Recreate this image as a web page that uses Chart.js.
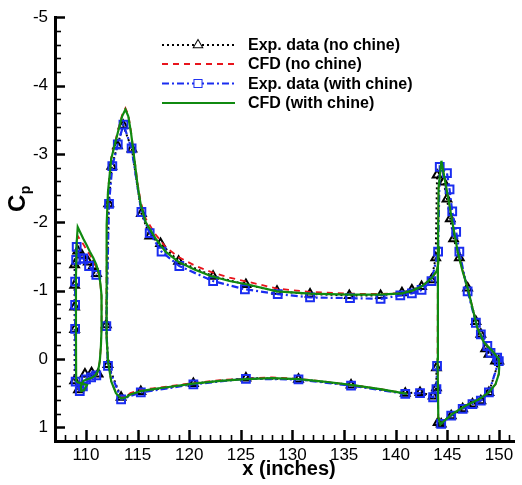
<!DOCTYPE html>
<html>
<head>
<meta charset="UTF-8">
<title>Cp distribution</title>
<script src="https://cdn.jsdelivr.net/npm/chart.js"></script>
<style>
  body { margin: 0; padding: 0; background: #fff; }
  #wrap { width: 522px; height: 485px; }
</style>
</head>
<body>
<div id="wrap"><canvas id="cpChart" width="522" height="485"></canvas></div>
<script>
// tick labels
var xTickLabels = [110, 115, 120, 125, 130, 135, 140, 145, 150];
var yTickLabels = [-5, -4, -3, -2, -1, 0, 1];

// CFD (with chine) - green; null splits the chine loop, main body and aft loop
var cfdChineX = [
  109.05, 109.03, 109.03, 109.1, 109.2, 109.45, 109.74, 110.05, 110.38, 110.7, 111.0, 111.25, 111.4, 111.5, 111.52,
  111.5, 111.45, 111.34, 111.18, 110.9, 110.5, 110.06, 109.75, 109.5, 109.55, 109.8, 110.1, 109.6, 109.2, 109.05,
  null,
  141.1, 138.5, 135.67, 133.0, 130.58, 128.0, 125.49, 123.0, 120.4, 118.0, 116.5, 115.31, 114.3, 113.9, 113.4,
  112.9, 112.45, 112.15, 112.0, 111.97, 112.0, 112.03, 112.13, 112.45, 113.08, 113.5, 113.82, 114.1, 114.36, 114.68,
  115.0, 115.31, 115.79, 116.75, 117.7, 118.97, 120.5, 122.15, 123.9, 125.65, 128.5, 131.7, 135.5, 138.37, 140.6,
  141.6, 142.5, 143.46, 143.94, 144.1, 144.2,
  null,
  144.42, 144.73, 144.96, 145.2, 145.53, 146.0, 146.48, 146.96, 147.43, 147.9, 148.55, 149.34, 149.98, 150.02, 149.98,
  149.66, 149.0, 148.07, 146.8, 145.53, 144.73, 144.32, 144.12, 144.05, 144.08, 144.15, 144.42
];
var cfdChineY = [
  0.33, -0.4, -1.2, -1.7, -1.93, -1.85, -1.76, -1.67, -1.57, -1.48, -1.38, -1.25, -1.1, -0.94, -0.7,
  -0.45, -0.2, 0.03, 0.17, 0.24, 0.28, 0.30, 0.32, 0.40, 0.47, 0.46, 0.38, 0.36, 0.34, 0.33,
  null,
  0.51, 0.44, 0.38, 0.33, 0.295, 0.28, 0.295, 0.32, 0.36, 0.41, 0.44, 0.47, 0.52, 0.56, 0.58,
  0.50, 0.33, 0.05, -0.3, -0.8, -1.3, -1.96, -2.44, -2.93, -3.31, -3.55, -3.65, -3.55, -3.31, -2.93,
  -2.54, -2.25, -2.0, -1.76, -1.57, -1.42, -1.31, -1.21, -1.14, -1.09, -0.99, -0.955, -0.94, -0.94, -0.96,
  -1.0, -1.06, -1.18, -1.28, -1.38, -1.65,
  null,
  -2.90, -2.64, -2.45, -2.25, -1.96, -1.57, -1.28, -1.04, -0.745, -0.455, -0.24, -0.12, 0.0, 0.12, 0.22,
  0.37, 0.49, 0.59, 0.68, 0.80, 0.90, 0.96, 0.85, 0.0, -1.5, -2.5, -2.90
];

// CFD (no chine) - red dashed
var cfdNoChineX = [
  109.05, 109.03, 109.03, 109.1, 109.2, 109.45, 109.74, 110.05, 110.38, 110.7, 111.0, 111.25, 111.4, 111.5, 111.52,
  111.5, 111.45, 111.34, 111.18, 110.9, 110.5, 110.06, 109.6, 109.45, 109.7, 110.0, 109.5, 109.3, 109.1, 109.05,
  null,
  141.1, 138.5, 135.67, 133.0, 130.58, 128.0, 125.49, 123.0, 120.4, 118.0, 116.5, 115.31, 114.3, 113.9, 113.4,
  112.9, 112.45, 112.15, 112.0, 111.97, 112.0, 112.03, 112.13, 112.45, 113.08, 113.5, 113.82, 114.1, 114.36, 114.68,
  115.0, 115.31, 115.79, 116.75, 117.7, 118.97, 120.5, 122.15, 123.9, 125.65, 128.5, 131.7, 135.5, 138.37, 140.6,
  141.6, 142.5, 143.46, 143.94, 144.1, 144.2,
  null,
  144.42, 144.73, 144.96, 145.2, 145.53, 146.0, 146.48, 146.96, 147.43, 147.9, 148.55, 149.34, 149.98, 150.02, 149.98,
  149.66, 149.0, 148.07, 146.8, 145.53, 144.73, 144.32, 144.12, 144.05, 144.08, 144.15, 144.42
];
var cfdNoChineY = [
  0.33, -0.4, -1.2, -1.6, -1.8, -1.74, -1.68, -1.6, -1.52, -1.44, -1.35, -1.23, -1.08, -0.92, -0.7,
  -0.45, -0.2, 0.03, 0.17, 0.25, 0.29, 0.31, 0.36, 0.45, 0.49, 0.41, 0.37, 0.35, 0.34, 0.33,
  null,
  0.51, 0.44, 0.38, 0.33, 0.29, 0.27, 0.285, 0.31, 0.35, 0.40, 0.43, 0.45, 0.50, 0.54, 0.56,
  0.49, 0.33, 0.05, -0.3, -0.8, -1.3, -1.97, -2.46, -2.95, -3.33, -3.57, -3.67, -3.57, -3.33, -2.95,
  -2.57, -2.29, -2.05, -1.82, -1.64, -1.49, -1.37, -1.27, -1.19, -1.13, -1.03, -0.98, -0.955, -0.95, -0.965,
  -1.0, -1.06, -1.18, -1.28, -1.38, -1.65,
  null,
  -2.88, -2.63, -2.44, -2.25, -1.97, -1.58, -1.29, -1.05, -0.75, -0.46, -0.24, -0.12, 0.0, 0.12, 0.22,
  0.37, 0.49, 0.59, 0.68, 0.80, 0.90, 0.96, 0.85, 0.0, -1.5, -2.5, -2.88
];

// Exp. data (no chine) - black triangles
var expNoChineX = [
  111.18, 110.54, 109.9, 109.27, 108.9, 108.9, 108.9, 108.9, 108.9, 109.2, 109.6, 110.22, 110.7, 111.02,
  null,
  143.94, 143.94, 143.62, 142.35, 140.92, 135.67, 130.58, 125.49, 120.4, 115.31, 113.4, 112.13, 111.97, 112.2, 112.5,
  113.05, 113.6, 114.45, 115.37, 116.17, 117.22, 118.97, 122.31, 125.49, 128.5, 131.7, 135.5, 138.53, 140.6, 141.56,
  142.5, 143.46, 143.87, 144.0, 144.64, 144.96, 145.28, 145.6, 146.16, 146.96, 147.76, 148.24, 148.7, 149.02, 149.66,
  149.98, 149.02, 148.24, 147.43, 146.48, 145.37, 144.4, 144.1
];
var expNoChineY = [
  0.22, 0.20, 0.22, 0.45, 0.32, -0.43, -0.76, -1.08, -1.38, -1.58, -1.52, -1.42, -1.36, -1.25,
  null,
  0.13, 0.42, 0.54, 0.49, 0.50, 0.38, 0.295, 0.28, 0.36, 0.475, 0.56, 0.08, -0.50, -2.27, -2.82,
  -3.12, -3.42, -3.07, -2.13, -1.80, -1.69, -1.43, -1.21, -1.09, -0.99, -0.95, -0.93, -0.93, -0.97, -1.01,
  -1.06, -1.16, -1.48, -2.69, -2.59, -2.34, -2.05, -1.76, -1.48, -1.04, -0.55, -0.36, -0.15, -0.07, 0.03,
  0.03, 0.49, 0.61, 0.66, 0.73, 0.83, 0.95, 0.93
];

// Exp. data (with chine) - blue squares
var expChineX = [
  111.0, 110.5, 110.0, 109.7, 109.4, 109.0, 108.95, 108.95, 108.95, 109.05, 109.1, 109.43, 109.74, 110.3, 111.0,
  null,
  144.0, 143.94, 143.62, 142.35, 140.92, 135.67, 130.58, 125.49, 120.4, 115.31, 113.4, 112.13, 111.97, 112.23, 112.55,
  113.08, 113.63, 114.42, 115.37, 116.17, 117.32, 119.04, 122.31, 125.39, 128.57, 131.7, 135.57, 138.53, 140.44, 141.56,
  142.5, 143.46, 144.1, 144.26, 144.96, 145.21, 145.47, 145.85, 146.16, 146.96, 147.76, 148.24, 148.87, 149.18, 149.82,
  149.98, 149.02, 148.24, 147.43, 146.48, 145.37, 144.4
];
var expChineY = [
  0.24, 0.27, 0.30, 0.40, 0.47, 0.33, -0.44, -0.79, -1.13, -1.45, -1.64, -1.47, -1.47, -1.36, -1.23,
  null,
  0.10, 0.44, 0.56, 0.50, 0.51, 0.39, 0.30, 0.29, 0.37, 0.49, 0.59, 0.10, -0.48, -2.27, -2.82,
  -3.14, -3.43, -3.08, -2.15, -1.84, -1.57, -1.36, -1.14, -1.02, -0.95, -0.90, -0.89, -0.88, -0.93, -0.96,
  -1.01, -1.14, -1.57, -2.81, -2.72, -2.48, -2.16, -1.86, -1.57, -0.99, -0.53, -0.36, -0.19, -0.09, -0.02,
  0.03, 0.49, 0.61, 0.66, 0.73, 0.83, 0.95
];

var legendLabels = ['Exp. data (no chine)', 'CFD (no chine)', 'Exp. data (with chine)', 'CFD (with chine)'];

function toPoints(xs, ys) {
  return xs.map(function (x, i) { return { x: x, y: ys[i] }; });
}

var FONT = '"Liberation Sans", Arial, Helvetica, sans-serif';

var series = [
  { label: legendLabels[0], data: toPoints(expNoChineX, expNoChineY), borderColor: '#000000', borderDash: [2, 3],
    borderWidth: 2, pointStyle: 'triangle', pointRadius: 5, pointBorderWidth: 2, order: 3 },
  { label: legendLabels[1], data: toPoints(cfdNoChineX, cfdNoChineY), borderColor: '#e8141c', borderDash: [6, 5],
    borderWidth: 1.8, pointStyle: false, pointRadius: 0, order: 2 },
  { label: legendLabels[2], data: toPoints(expChineX, expChineY), borderColor: '#1a2df0', borderDash: [7, 3, 2, 3],
    borderWidth: 2.2, pointStyle: 'rect', pointRadius: 5.5, pointBorderWidth: 2, order: 1 },
  { label: legendLabels[3], data: toPoints(cfdChineX, cfdChineY), borderColor: '#108a10', borderDash: [],
    borderWidth: 2.2, pointStyle: false, pointRadius: 0, order: 0 }
];

// inward ticks, legend box and axis titles
var decor = {
  id: 'decor',
  afterDraw: function (chart) {
    var ctx = chart.ctx, xs = chart.scales.x, ys = chart.scales.y, a = chart.chartArea;
    ctx.save();
    ctx.strokeStyle = '#000';
    for (var v = Math.ceil(xs.min); v <= xs.max; v++) {
      var px = Math.round(xs.getPixelForValue(v)) + 0.5;
      var major = v % 5 === 0;
      ctx.lineWidth = major ? 2.5 : 1.6;
      ctx.beginPath();
      ctx.moveTo(px, a.bottom);
      ctx.lineTo(px, a.bottom - (major ? 11 : 6));
      ctx.stroke();
    }
    for (var k = -25; k <= 6; k++) {
      var py = Math.round(ys.getPixelForValue(k / 5)) + 0.5;
      var maj = k % 5 === 0;
      ctx.lineWidth = maj ? 2.5 : 1.6;
      ctx.beginPath();
      ctx.moveTo(a.left, py);
      ctx.lineTo(a.left + (maj ? 10 : 6), py);
      ctx.stroke();
    }

    // legend
    var rows = [45, 64, 83.5, 103];
    ctx.font = 'bold 16px ' + FONT;
    ctx.textBaseline = 'middle';
    ctx.textAlign = 'left';
    series.forEach(function (s, i) {
      var y = rows[i];
      ctx.strokeStyle = s.borderColor;
      ctx.lineWidth = s.borderWidth;
      ctx.setLineDash(s.borderDash);
      ctx.beginPath();
      ctx.moveTo(162, y);
      ctx.lineTo(235, y);
      ctx.stroke();
      ctx.setLineDash([]);
      if (s.pointStyle) {
        ctx.fillStyle = '#fff';
        ctx.lineWidth = 2;
        Chart.helpers.drawPoint(ctx, { pointStyle: s.pointStyle, radius: s.pointRadius - 0.5, rotation: 0, borderWidth: 2 }, 198, y);
        ctx.fill();
      }
      ctx.fillStyle = '#000';
      ctx.fillText(s.label, 248, y + 1);
    });

    // x title
    ctx.fillStyle = '#000';
    ctx.font = 'bold 20px ' + FONT;
    ctx.textAlign = 'center';
    ctx.textBaseline = 'alphabetic';
    ctx.fillText('x (inches)', 289, 475);

    // y title C_p
    ctx.translate(25, 212);
    ctx.rotate(-Math.PI / 2);
    ctx.textAlign = 'left';
    ctx.font = 'bold 24px ' + FONT;
    ctx.fillText('C', 0, 0);
    var cw = ctx.measureText('C').width;
    ctx.font = 'bold 14px ' + FONT;
    ctx.fillText('p', cw + 0.5, 5);
    ctx.restore();
  }
};

new Chart(document.getElementById('cpChart'), {
  type: 'scatter',
  data: {
    datasets: series.map(function (s) {
      return {
        label: s.label,
        data: s.data,
        showLine: true,
        spanGaps: false,
        borderColor: s.borderColor,
        borderWidth: s.borderWidth,
        borderDash: s.borderDash,
        backgroundColor: 'rgba(0,0,0,0)',
        pointStyle: s.pointStyle,
        pointRadius: s.pointRadius,
        pointHoverRadius: s.pointRadius,
        pointBorderWidth: s.pointBorderWidth || 0,
        pointBorderColor: s.borderColor,
        pointBackgroundColor: 'rgba(255,255,255,0)',
        tension: 0,
        order: s.order
      };
    })
  },
  options: {
    responsive: false,
    animation: false,
    devicePixelRatio: 1,
    layout: { padding: { top: 14, right: 1, left: 0, bottom: 0 } },
    plugins: { legend: { display: false }, tooltip: { enabled: false } },
    scales: {
      x: {
        type: 'linear',
        min: 107,
        max: 151.5,
        afterFit: function (s) { s.height = 44; },
        grid: { display: false, drawTicks: false },
        border: { display: true, color: '#000', width: 3 },
        ticks: {
          stepSize: 5,
          includeBounds: false,
          padding: 4,
          color: '#000',
          font: { family: FONT, size: 17 },
          maxRotation: 0,
          callback: function (v) { return xTickLabels.indexOf(v) >= 0 ? String(v) : ''; }
        }
      },
      y: {
        type: 'linear',
        reverse: true,
        min: -5,
        max: 1.2,
        afterFit: function (s) { s.width = 55; },
        grid: { display: false, drawTicks: false },
        border: { display: true, color: '#000', width: 3 },
        ticks: {
          stepSize: 1,
          includeBounds: false,
          padding: 7,
          color: '#000',
          font: { family: FONT, size: 17 },
          callback: function (v) { return yTickLabels.indexOf(v) >= 0 ? String(v) : ''; }
        }
      }
    }
  },
  plugins: [decor]
});
</script>
</body>
</html>
